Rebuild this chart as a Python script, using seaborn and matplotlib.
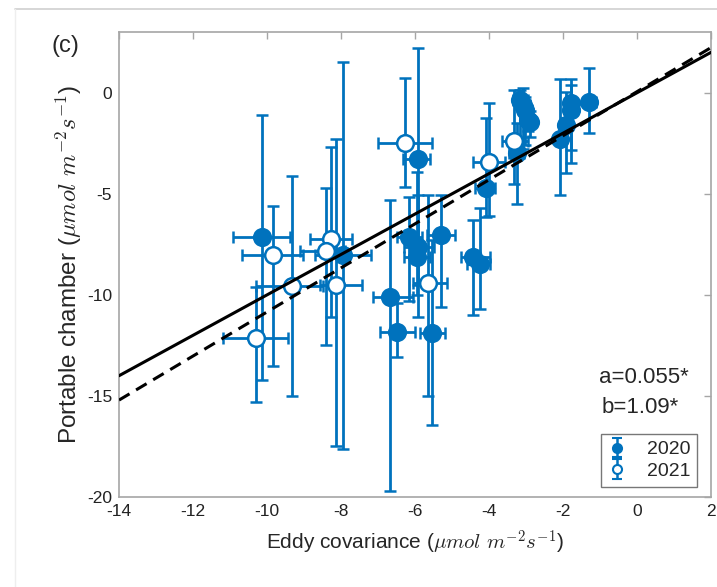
import numpy as np
import pandas as pd
import matplotlib
matplotlib.use("Agg")
import matplotlib.pyplot as plt
from matplotlib.lines import Line2D
import seaborn as sns

# ---------------- data ----------------
# 2020 (filled)
x20    = [-10.14, -7.96, -6.68, -6.48, -5.53, -6.15, -5.91, -5.94, -5.31, -5.91, -4.42, -4.24, -4.07, -3.25, -3.16, -3.07, -3.03, -2.94, -2.89, -2.08, -1.92, -1.78, -1.78, -1.29]
y20    = [-7.13, -8.03, -10.10, -11.83, -11.88, -7.16, -7.62, -8.12, -7.04, -3.30, -8.12, -8.45, -4.73, -3.00, -0.36, -0.61, -0.86, -1.35, -1.43, -2.30, -1.60, -0.52, -0.86, -0.45]
x20_lo = [-10.91, -8.70, -7.14, -6.95, -5.86, -6.50, -6.30, -6.30, -5.68, -6.32, -4.76, -4.60, -4.38, -3.45, -3.35, -3.25, -3.20, -3.10, -3.05, -2.20, -2.05, -1.92, -1.92, -1.45]
x20_hi = [-9.38, -7.20, -6.05, -6.00, -5.19, -5.80, -5.50, -5.60, -4.92, -5.59, -3.97, -3.97, -3.84, -3.05, -2.95, -2.88, -2.85, -2.78, -2.72, -1.95, -1.78, -1.62, -1.62, -1.12]
y20_lo = [-14.20, -17.60, -19.70, -13.07, -16.45, -10.30, -11.10, -10.00, -10.60, -9.50, -11.00, -10.70, -6.14, -5.48, -2.40, -2.80, -2.60, -1.90, -2.20, -5.06, -3.99, -2.84, -3.50, -1.98]
y20_hi = [-1.10, 1.53, -5.30, -10.40, -7.30, -5.15, -5.07, -3.90, -5.07, 2.20, -6.30, -5.72, -1.25, -1.50, 0.13, 0.22, -0.20, -0.80, -0.90, 0.66, 0.05, 0.66, 0.38, 1.21]

# 2021 (open)
x21    = [-9.83, -9.33, -10.30, -8.28, -8.41, -8.14, -6.27, -5.64, -3.99, -3.32]
y21    = [-8.03, -9.55, -12.13, -7.26, -7.82, -9.49, -2.51, -9.40, -3.41, -2.37]
x21_lo = [-10.68, -10.30, -11.18, -8.84, -9.10, -8.57, -6.99, -6.05, -4.42, -3.66]
x21_hi = [-9.02, -8.50, -9.42, -7.71, -7.90, -7.44, -5.55, -5.14, -3.57, -2.94]
y21_lo = [-13.50, -15.00, -15.30, -11.10, -12.50, -17.50, -4.68, -15.00, -6.10, -4.50]
y21_hi = [-5.60, -4.10, -9.60, -2.67, -4.73, -2.29, 0.71, -5.07, -0.52, 0.13]

# fit (a = intercept, b = slope) and 1:1 line
fit_a, fit_b = 0.055, 1.09
line_x = [-14, 2]

xticks = [-14, -12, -10, -8, -6, -4, -2, 0, 2]
yticks = [-20, -15, -10, -5, 0]
years = ['2020', '2021']

# ---------------- style ----------------
sns.set_theme(style="white")
plt.rcParams['font.family'] = ['Liberation Sans', 'DejaVu Sans']
plt.rcParams['mathtext.fontset'] = 'cm'

blue = '#0072BD'
gray = '#a6a6a6'

fig = plt.figure(figsize=(7.17, 5.87), dpi=100)
ax = fig.add_axes([0.166, 0.1533, 0.8257, 0.792])

def draw(x, y, xl, xh, yl, yh, filled, label):
    x = np.array(x); y = np.array(y)
    xerr = [x - np.array(xl), np.array(xh) - x]
    yerr = [y - np.array(yl), np.array(yh) - y]
    ax.errorbar(x, y, xerr=xerr, yerr=yerr, fmt='o', color=blue,
                ecolor=blue, elinewidth=2.0, capsize=4, capthick=2.0,
                markersize=12, markeredgewidth=1.8,
                markerfacecolor=blue if filled else 'white',
                markeredgecolor=blue, zorder=2)

draw(x20, y20, x20_lo, x20_hi, y20_lo, y20_hi, True, years[0])
draw(x21, y21, x21_lo, x21_hi, y21_lo, y21_hi, False, years[1])

lines = pd.DataFrame({
    'x': line_x + line_x,
    'y': list(line_x) + [fit_a + fit_b * v for v in line_x],
    'kind': ['1:1', '1:1', 'fit', 'fit'],
})
sns.lineplot(data=lines[lines.kind == '1:1'], x='x', y='y', ax=ax,
             color='black', lw=2.2, zorder=5, legend=False)
sns.lineplot(data=lines[lines.kind == 'fit'], x='x', y='y', ax=ax,
             color='black', lw=2.2, zorder=5, legend=False)
ax.lines[-1].set_dashes((4, 2.5))

ax.set_xlim(-14, 2)
ax.set_ylim(-20, 3)

# legend handles: small markers with vertical error bars only (drawn outside view)
hs = []
for filled, lab in zip([True, False], years):
    h = ax.errorbar([100], [100], yerr=[[1], [1]], fmt='o', color=blue,
                    ecolor=blue, elinewidth=1.8, capsize=3.5, capthick=1.8,
                    markersize=6.5, markeredgewidth=1.5,
                    markerfacecolor=blue if filled else 'white',
                    markeredgecolor=blue, label=lab)
    hs.append(h)

ax.set_xticks(xticks)
ax.set_yticks(yticks)
ax.set_xticklabels([str(t) for t in xticks], fontsize=12.5)
ax.set_yticklabels([str(t) for t in yticks], fontsize=12.5)
ax.tick_params(direction='in', length=5, width=1, color=gray,
               top=True, right=True, labelcolor='#222222', pad=5)
for s in ax.spines.values():
    s.set_color(gray)
    s.set_linewidth(1.2)

ax.set_xlabel(r'Eddy covariance ($\mu mol\ m^{-2}s^{-1}$)', fontsize=15, labelpad=7)
ax.set_ylabel(r'Portable chamber ($\mu mol\ m^{-2}s^{-1}$)', fontsize=17.5, labelpad=2)

ax.text(0.962, 0.258, 'a=0.055*', transform=ax.transAxes, ha='right',
        va='center', fontsize=16)
ax.text(0.945, 0.192, 'b=1.09*', transform=ax.transAxes, ha='right',
        va='center', fontsize=16)

leg = ax.legend(handles=hs, labels=years,
                loc='lower right', bbox_to_anchor=(0.976, 0.022),
                fontsize=14, frameon=True, fancybox=False,
                handlelength=1.0, handletextpad=1.0, borderpad=0.35,
                labelspacing=0.2, borderaxespad=0)
leg.get_frame().set_edgecolor('#555555')
leg.get_frame().set_linewidth(1.0)

fig.text(0.091, 0.922, '(c)', fontsize=17, ha='center', va='center')

# screenshot frame
fig.add_artist(Line2D([15/717, 1], [1 - 9/587, 1 - 9/587], color='#d0d0d0', lw=1.2))
fig.add_artist(Line2D([15/717, 15/717], [1 - 9/587, 0.0], color='#eeeeee', lw=1.0))

fig.savefig('out.png', dpi=100)
